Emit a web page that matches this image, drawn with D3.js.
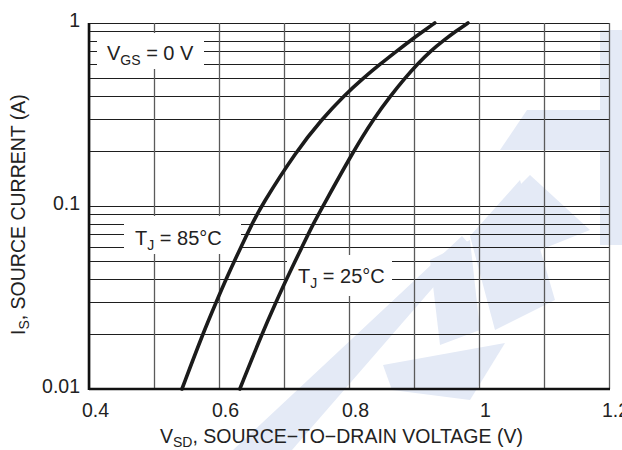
<!DOCTYPE html>
<html><head><meta charset="utf-8">
<script src="https://cdn.jsdelivr.net/npm/d3@7"></script>
<style>
body{margin:0;background:#fff}
svg{display:block;font-family:"Liberation Sans",Arial,Helvetica,sans-serif}
</style>
</head><body>
<svg id="c" width="622" height="450"></svg>
<script>
// ---- data ----
const currentA = [0.01, 0.02, 0.03, 0.04, 0.06, 0.08, 0.1, 0.2, 0.3, 0.4, 0.5, 0.6, 0.7, 0.8, 0.9, 1.0];
const vsd85C  = [0.543, 0.575, 0.596, 0.611, 0.634, 0.651, 0.665, 0.719, 0.759, 0.792, 0.822, 0.849, 0.873, 0.894, 0.914, 0.932];
const vsd25C  = [0.632, 0.666, 0.688, 0.704, 0.728, 0.745, 0.760, 0.807, 0.838, 0.864, 0.886, 0.906, 0.925, 0.945, 0.964, 0.983];
const xTickValues = [0.4, 0.6, 0.8, 1.0, 1.2];
const xTickLabels = ["0.4", "0.6", "0.8", "1", "1.2"];
const yTickValues = [0.01, 0.1, 1];
const yTickLabels = ["0.01", "0.1", "1"];

const svg = d3.select("#c");
const m = {l: 89, r: 609, t: 23, b: 389};

const x = d3.scaleLinear().domain([0.4, 1.2]).range([m.l, m.r]);
const y = d3.scaleLog().domain([0.01, 1]).range([m.b, m.t]);

// ---- watermark (faint background logo) ----
const wm = svg.append("g").attr("fill", "#e4eaf6");
const wmShapes = [
  [[233,450],[292,450],[470,245],[462,236]],
  [[470,236],[520,180],[555,300],[495,330]],
  [[527,110],[622,110],[622,150],[500,150]],
  [[600,30],[622,30],[622,245],[600,245]],
  [[383,365],[505,343],[470,400],[392,390]],
  [[430,260],[470,240],[480,330],[440,345]],
  [[530,175],[590,230],[540,250],[505,200]]
];
wmShapes.forEach(p => wm.append("polygon").attr("points", p.map(d => d.join(",")).join(" ")));

// ---- grid ----
const grid = svg.append("g");
grid.selectAll("line.h").data(y.ticks()).join("line")
  .attr("x1", m.l).attr("x2", m.r)
  .attr("y1", d => Math.round(y(d)) + 0.5).attr("y2", d => Math.round(y(d)) + 0.5)
  .attr("stroke", "#1e1e1e").attr("stroke-width", 1.2);
grid.selectAll("line.v").data(d3.range(0.4, 1.2001, 0.1)).join("line")
  .attr("y1", m.t).attr("y2", m.b)
  .attr("x1", d => Math.round(x(d)) + 0.5).attr("x2", d => Math.round(x(d)) + 0.5)
  .attr("stroke", "#5a5a5a").attr("stroke-width", 1.3);

// ---- label boxes (white, hiding the grid) ----
function label(cx, baseY, main, sub, rest, box) {
  svg.append("rect").attr("x", box[0]).attr("y", box[1]).attr("width", box[2]).attr("height", box[3]).attr("fill", "#fff");
  const t = svg.append("text").attr("x", cx).attr("y", baseY).attr("font-size", 20).attr("fill", "#222");
  t.append("tspan").text(main);
  t.append("tspan").attr("font-size", 14).attr("dy", 5).text(sub);
  t.append("tspan").attr("dy", -5).text(rest);
}
label(107, 60, "V", "GS", " = 0 V", [97, 33, 107, 36]);
label(135, 245, "T", "J", " = 85°C", [124, 216, 117, 38]);
label(298, 283, "T", "J", " = 25°C", [287, 255, 105, 41]);

// ---- curves ----
const line = d3.line().x(d => x(d[0])).y(d => y(d[1])).curve(d3.curveBasis);
[vsd85C, vsd25C].forEach(v => {
  svg.append("path").datum(v.map((vv, i) => [vv, currentA[i]]))
    .attr("d", line).attr("fill", "none").attr("stroke", "#1b1b1b")
    .attr("stroke-width", 3.6).attr("stroke-linecap", "round");
});

// ---- axes ----
svg.append("line").attr("x1", m.l).attr("x2", m.l).attr("y1", m.t).attr("y2", m.b + 1)
  .attr("stroke", "#111").attr("stroke-width", 2.6);
svg.append("line").attr("x1", m.l).attr("x2", m.r + 1).attr("y1", m.b).attr("y2", m.b)
  .attr("stroke", "#111").attr("stroke-width", 2.6);

const xAxis = d3.axisBottom(x).tickValues(xTickValues).tickFormat((d, i) => xTickLabels[i]).tickSize(0).tickPadding(0);
const gx = svg.append("g").attr("transform", `translate(6,${m.b})`).call(xAxis);
gx.select(".domain").remove();
gx.selectAll("text").attr("font-size", 19.5).attr("fill", "#222").attr("font-family", "Liberation Sans, Arial, sans-serif")
  .attr("dy", 0).attr("y", 28);

const yAxis = d3.axisLeft(y).tickValues(yTickValues).tickFormat((d, i) => yTickLabels[i]).tickSize(0).tickPadding(9);
const gy = svg.append("g").attr("transform", `translate(${m.l},0)`).call(yAxis);
gy.select(".domain").remove();
gy.selectAll("text").attr("font-size", 19.5).attr("fill", "#222").attr("font-family", "Liberation Sans, Arial, sans-serif")
  .attr("dy", "0.2em");

// ---- axis titles ----
const xt = svg.append("text").attr("x", 160).attr("y", 443).attr("font-size", 19.5).attr("fill", "#222");
xt.append("tspan").text("V");
xt.append("tspan").attr("font-size", 14).attr("dy", 4).text("SD");
xt.append("tspan").attr("dy", -4).text(", SOURCE\u2212TO\u2212DRAIN VOLTAGE (V)");

const yt = svg.append("text").attr("transform", "translate(25,335) rotate(-90)").attr("font-size", 19.5).attr("fill", "#222");
yt.append("tspan").text("I");
yt.append("tspan").attr("font-size", 14).attr("dy", 4).text("S");
yt.append("tspan").attr("dy", -4).text(", SOURCE CURRENT (A)");
</script>
</body></html>
